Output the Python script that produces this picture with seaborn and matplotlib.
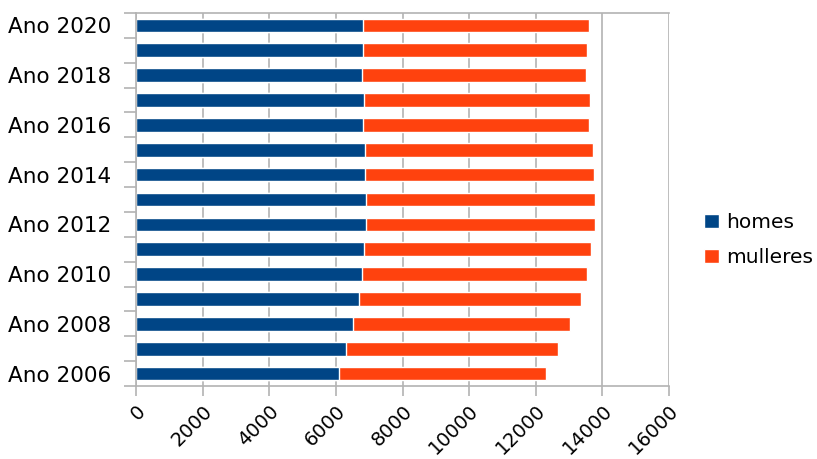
import numpy as np
import pandas as pd
import seaborn as sns
import matplotlib.pyplot as plt
from matplotlib.patches import Patch

years = [2006, 2007, 2008, 2009, 2010, 2011, 2012, 2013, 2014, 2015, 2016, 2017, 2018, 2019, 2020]
homes = [6100, 6310, 6520, 6700, 6790, 6850, 6910, 6910, 6880, 6880, 6820, 6850, 6790, 6820, 6820]
mulleres = [6220, 6370, 6500, 6650, 6740, 6800, 6860, 6860, 6860, 6830, 6770, 6770, 6710, 6710, 6770]

df = pd.DataFrame({'ano': ['Ano %d' % y for y in years], 'homes': homes, 'mulleres': mulleres})
df['total'] = df['homes'] + df['mulleres']
order = df['ano'][::-1].tolist()

sns.set_style('white')
plt.rcParams['font.family'] = ['DejaVu Sans']
plt.rcParams['text.color'] = 'black'
plt.rcParams['xtick.labelcolor'] = 'black'
plt.rcParams['ytick.labelcolor'] = 'black'

fig = plt.figure(figsize=(8.17, 4.59), dpi=100)
ax = fig.add_axes([136 / 817, 1 - 386 / 459, 533 / 817, 373 / 459])

blue = '#004586'
orange = '#ff420e'

# stacked bars: total in orange, homes drawn over it in blue
sns.barplot(data=df, y='ano', x='total', order=order, orient='h', color=orange,
            width=0.55, saturation=1, ax=ax)
sns.barplot(data=df, y='ano', x='homes', order=order, orient='h', color=blue,
            width=0.55, saturation=1, ax=ax)

ax.set_xlim(0, 16000)
ax.set_ylim(len(years) - 0.5, -0.5)
ax.set_xticks(np.arange(0, 16001, 2000))
ax.set_xticklabels([str(v) for v in range(0, 16001, 2000)], rotation=45, ha='right',
                   rotation_mode='anchor', fontsize=14)
ax.xaxis.grid(True, color='#b3b3b3', linewidth=1.2)
ax.set_axisbelow(True)

# only even years labelled
ax.set_yticks(range(len(order)))
ax.set_yticklabels([lab if int(lab[-4:]) % 2 == 0 else '' for lab in order], fontsize=15.5)
ax.tick_params(axis='y', which='major', left=False, length=0, pad=18)
ax.set_yticks(np.arange(-0.5, len(order), 1), minor=True)
ax.tick_params(axis='y', which='minor', left=True, length=9, color='#b3b3b3', width=1.2)
ax.tick_params(axis='x', bottom=True, length=7, color='#b3b3b3', width=1.2, pad=4)
ax.set_xlabel('')
ax.set_ylabel('')

for side in ['left', 'bottom', 'top']:
    ax.spines[side].set_color('#b3b3b3')
    ax.spines[side].set_linewidth(1.2)
ax.spines['right'].set_visible(False)

handles = [Patch(facecolor=blue, label='homes'), Patch(facecolor=orange, label='mulleres')]
fig.legend(handles=handles, loc='center left', bbox_to_anchor=(700 / 817, 1 - 240 / 459),
           frameon=False, fontsize=14.5, handlelength=0.75, handleheight=0.75,
           handletextpad=0.35, labelspacing=0.8, borderaxespad=0, borderpad=0.2)

fig.savefig('out.png', dpi=100)
